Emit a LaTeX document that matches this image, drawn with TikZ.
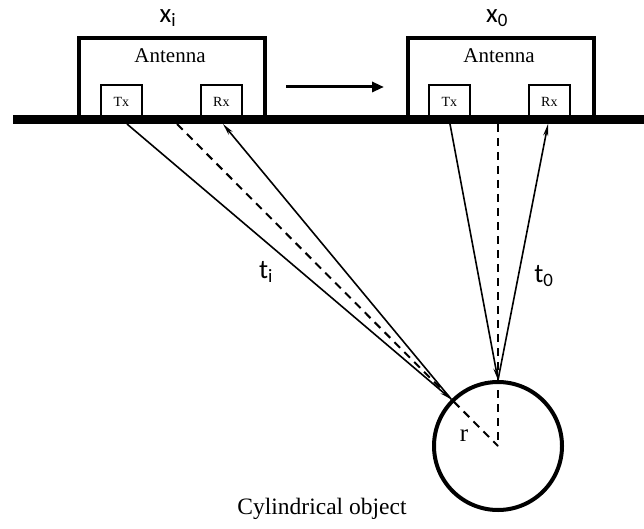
\documentclass[tikz,border=0pt]{standalone}
\usepackage{fontspec}
\setmainfont{Liberation Serif}
\newfontfamily\lblfont{Carlito}
\usetikzlibrary{arrows.meta}
\begin{document}
\begin{tikzpicture}[x=1pt,y=-1pt,
  antbox/.style={draw, line width=4pt, minimum width=186pt, minimum height=83pt,
    inner sep=0pt, anchor=north west},
  portbox/.style={draw, line width=1.8pt, minimum width=41pt, minimum height=35pt,
    inner sep=0pt, anchor=north west, font=\fontsize{14}{14}\selectfont},
  anttext/.style={font=\fontsize{21}{21}\selectfont, inner sep=0pt},
  poslbl/.style={font=\lblfont\fontsize{27}{27}\selectfont, inner sep=0pt},
  ray/.style={line width=1.6pt, -{Stealth[length=12pt,width=5pt]}},
  axis/.style={line width=2pt, dash pattern=on 8pt off 6pt},
  ground/.style={line width=9pt},
  target/.style={draw, circle, line width=4pt, minimum size=128pt, inner sep=0pt}
]
\useasboundingbox (0,0) rectangle (644,529);

% antenna at position x_i
\node[antbox] (ant1) at (77,36) {};
\node[anttext] (ant1t) at (170,56) {Antenna};
\node[portbox] (tx1) at (100,84) {Tx};
\node[portbox] (rx1) at (200,84) {Rx};
\node[poslbl] (xi) at (168,18) {x\textsubscript{i}};

% antenna at position x_0
\node[antbox] (ant2) at (406,36) {};
\node[anttext] (ant2t) at (499,56) {Antenna};
\node[portbox] (tx2) at (428,84) {Tx};
\node[portbox] (rx2) at (528,84) {Rx};
\node[poslbl] (x0) at (497,18) {x\textsubscript{0}};

% scan direction
\coordinate (mv1) at (286,87);
\coordinate (mv2) at (384,87);
\draw[line width=3pt, -{Triangle[length=12pt,width=10pt]}] (mv1) -- (mv2);

% ground surface
\coordinate (g1) at (13,119.5);
\coordinate (g2) at (644,119.5);
\draw[ground] (g1) -- (g2);

% buried cylinder
\node[target] (obj) at (498,446) {};
\node[font=\fontsize{25}{25}\selectfont, inner sep=0pt] (rl) at (464,436) {r};
\node[font=\fontsize{23.5}{23.5}\selectfont, inner sep=0pt] (cyl) at (322,509) {Cylindrical object};

% ray paths from x_i
\coordinate (tx1b) at (127,124);
\coordinate (ax1b) at (177,124);
\coordinate (rx1b) at (223,124);
\draw[ray] (tx1b) -- (obj.135);
\draw[ray] (obj.135) -- (rx1b);
\draw[axis] (ax1b) -- (obj.center);
\node[poslbl] (ti) at (266,272) {t\textsubscript{i}};

% ray paths from x_0
\coordinate (tx2b) at (450,124);
\coordinate (ax2b) at (498,124);
\coordinate (rx2b) at (548,124);
\draw[ray] (tx2b) -- (obj.north);
\draw[ray] (obj.north) -- (rx2b);
\draw[axis] (ax2b) -- (obj.center);
\node[poslbl] (t0) at (544,276) {t\textsubscript{0}};
\end{tikzpicture}
\end{document}
